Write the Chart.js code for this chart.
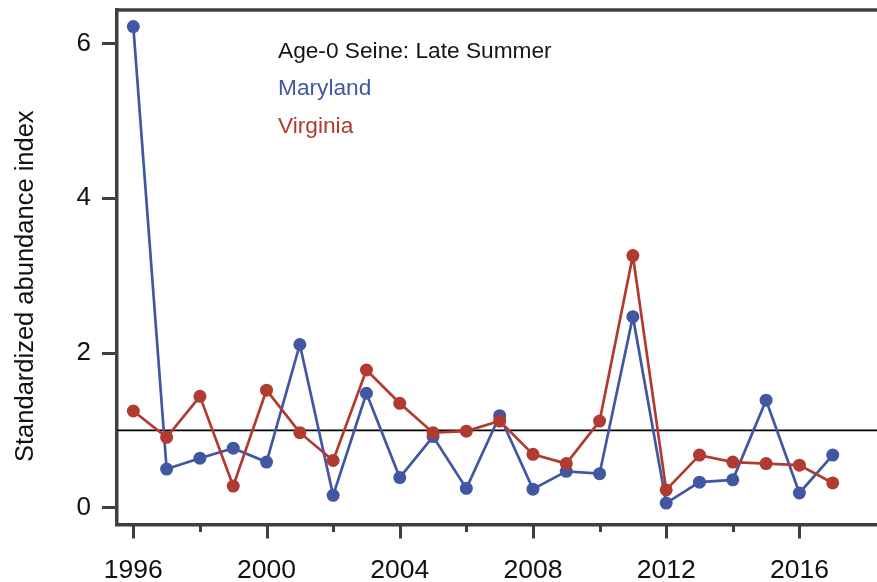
<!DOCTYPE html>
<html>
<head>
<meta charset="utf-8">
<script src="https://cdn.jsdelivr.net/npm/chart.js@4/dist/chart.umd.min.js"></script>
<style>
  html, body { margin: 0; padding: 0; background: #ffffff; overflow: hidden; }
  canvas { display: block; }
</style>
</head>
<body>
<canvas id="chart" width="877" height="582"></canvas>
<script>
// Survey years and standardized abundance indices (age-0 seine, late summer)
const years = [1996, 1997, 1998, 1999, 2000, 2001, 2002, 2003, 2004, 2005, 2006,
               2007, 2008, 2009, 2010, 2011, 2012, 2013, 2014, 2015, 2016, 2017];
const maryland = [6.22, 0.50, 0.64, 0.77, 0.59, 2.11, 0.16, 1.48, 0.39, 0.92, 0.25,
                  1.19, 0.24, 0.47, 0.44, 2.47, 0.06, 0.33, 0.36, 1.39, 0.19, 0.68];
const virginia = [1.25, 0.91, 1.44, 0.28, 1.52, 0.97, 0.61, 1.78, 1.35, 0.97, 0.99,
                  1.12, 0.69, 0.57, 1.12, 3.26, 0.23, 0.68, 0.59, 0.57, 0.55, 0.32];

// Long-term reference level
const referenceLevel = 1;

// Axis ticks
const yTickValues = [0, 2, 4, 6];
const xTickYears = [1996, 1998, 2000, 2002, 2004, 2006, 2008, 2010, 2012, 2014, 2016];
const xLabelYears = [1996, 2000, 2004, 2008, 2012, 2016];

// Texts
const yTitle = 'Standardized abundance index';
const panelTitle = 'Age-0 Seine: Late Summer';
const seriesNames = ['Maryland', 'Virginia'];

const BLUE = '#4157a2';
const RED = '#b13b30';
const AXIS = '#3f3f3f';
const FONT = "'Liberation Sans', Arial, Helvetica, sans-serif";

const X_MIN = 1995.51, X_MAX = 2018.33;
const Y_MIN = -0.217, Y_MAX = 6.434;

const toPoints = (vals) => years.map((yr, i) => ({ x: yr, y: vals[i] }));

// Top frame line, x-axis tick marks (long at labelled years), titles and key text
const decorations = {
  id: 'decorations',
  afterDraw(chart) {
    const { ctx, chartArea } = chart;
    const xs = chart.scales.x;
    ctx.save();
    // top frame
    ctx.strokeStyle = AXIS;
    ctx.lineWidth = 3.5;
    ctx.beginPath();
    ctx.moveTo(chartArea.left - 1.75, chartArea.top);
    ctx.lineTo(chartArea.right, chartArea.top);
    ctx.stroke();
    // x tick marks
    ctx.lineWidth = 3;
    xTickYears.forEach((yr) => {
      const px = Math.round(xs.getPixelForValue(yr)) + 0.5;
      const len = xLabelYears.includes(yr) ? 14 : 7.5;
      ctx.beginPath();
      ctx.moveTo(px, chartArea.bottom);
      ctx.lineTo(px, chartArea.bottom + len);
      ctx.stroke();
    });
    // y axis title
    ctx.fillStyle = '#111111';
    ctx.font = '25.5px ' + FONT;
    ctx.translate(33, 462);
    ctx.rotate(-Math.PI / 2);
    ctx.textAlign = 'left';
    ctx.textBaseline = 'alphabetic';
    ctx.fillText(yTitle, 0, 0);
    ctx.setTransform(1, 0, 0, 1, 0, 0);
    // key text
    ctx.font = '22.7px ' + FONT;
    ctx.textAlign = 'left';
    ctx.fillStyle = '#151515';
    ctx.fillText(panelTitle, 278, 58);
    ctx.fillStyle = BLUE;
    ctx.fillText(seriesNames[0], 278, 95);
    ctx.fillStyle = RED;
    ctx.fillText(seriesNames[1], 278, 133);
    ctx.restore();
  }
};

new Chart(document.getElementById('chart'), {
  type: 'line',
  data: {
    datasets: [
      {
        label: seriesNames[1],
        data: toPoints(virginia),
        borderColor: RED,
        backgroundColor: RED,
        borderWidth: 2.7,
        pointRadius: 6.5,
        pointBorderWidth: 0,
        pointBackgroundColor: RED,
        tension: 0,
        order: 1
      },
      {
        label: seriesNames[0],
        data: toPoints(maryland),
        borderColor: BLUE,
        backgroundColor: BLUE,
        borderWidth: 2.7,
        pointRadius: 6.5,
        pointBorderWidth: 0,
        pointBackgroundColor: BLUE,
        tension: 0,
        order: 2
      },
      {
        label: 'reference',
        data: [{ x: X_MIN, y: referenceLevel }, { x: X_MAX, y: referenceLevel }],
        borderColor: '#000000',
        borderWidth: 1.6,
        pointRadius: 0,
        tension: 0,
        order: 3
      }
    ]
  },
  options: {
    responsive: false,
    animation: false,
    events: [],
    layout: { autoPadding: false, padding: { top: 10, right: 0, bottom: 0, left: 0 } },
    plugins: {
      legend: { display: false },
      tooltip: { enabled: false }
    },
    scales: {
      x: {
        type: 'linear',
        min: X_MIN,
        max: X_MAX,
        grid: { display: false },
        border: { display: true, color: AXIS, width: 3.5 },
        afterBuildTicks: (scale) => { scale.ticks = xTickYears.map((v) => ({ value: v })); },
        afterFit: (scale) => {
          scale.height = 57.5;
          scale.paddingLeft = 0; scale.paddingRight = 0;
        },
        ticks: {
          autoSkip: false,
          maxRotation: 0,
          padding: 22,
          color: '#111111',
          font: { family: FONT, size: 26.5 },
          callback: (v) => (xLabelYears.includes(v) ? String(v) : '')
        }
      },
      y: {
        type: 'linear',
        min: Y_MIN,
        max: Y_MAX,
        grid: {
          display: true,
          drawOnChartArea: false,
          drawTicks: true,
          tickLength: 15,
          tickWidth: 3,
          tickColor: AXIS
        },
        border: { display: true, color: AXIS, width: 3.5 },
        afterBuildTicks: (scale) => { scale.ticks = yTickValues.map((v) => ({ value: v })); },
        afterFit: (scale) => {
          scale.width = 117;
          scale.paddingTop = 0; scale.paddingBottom = 0;
          scale.paddingLeft = 0; scale.paddingRight = 0;
        },
        ticks: {
          padding: 11,
          color: '#111111',
          font: { family: FONT, size: 26 },
          callback: (v) => String(v)
        }
      }
    }
  },
  plugins: [decorations]
});
</script>
</body>
</html>
